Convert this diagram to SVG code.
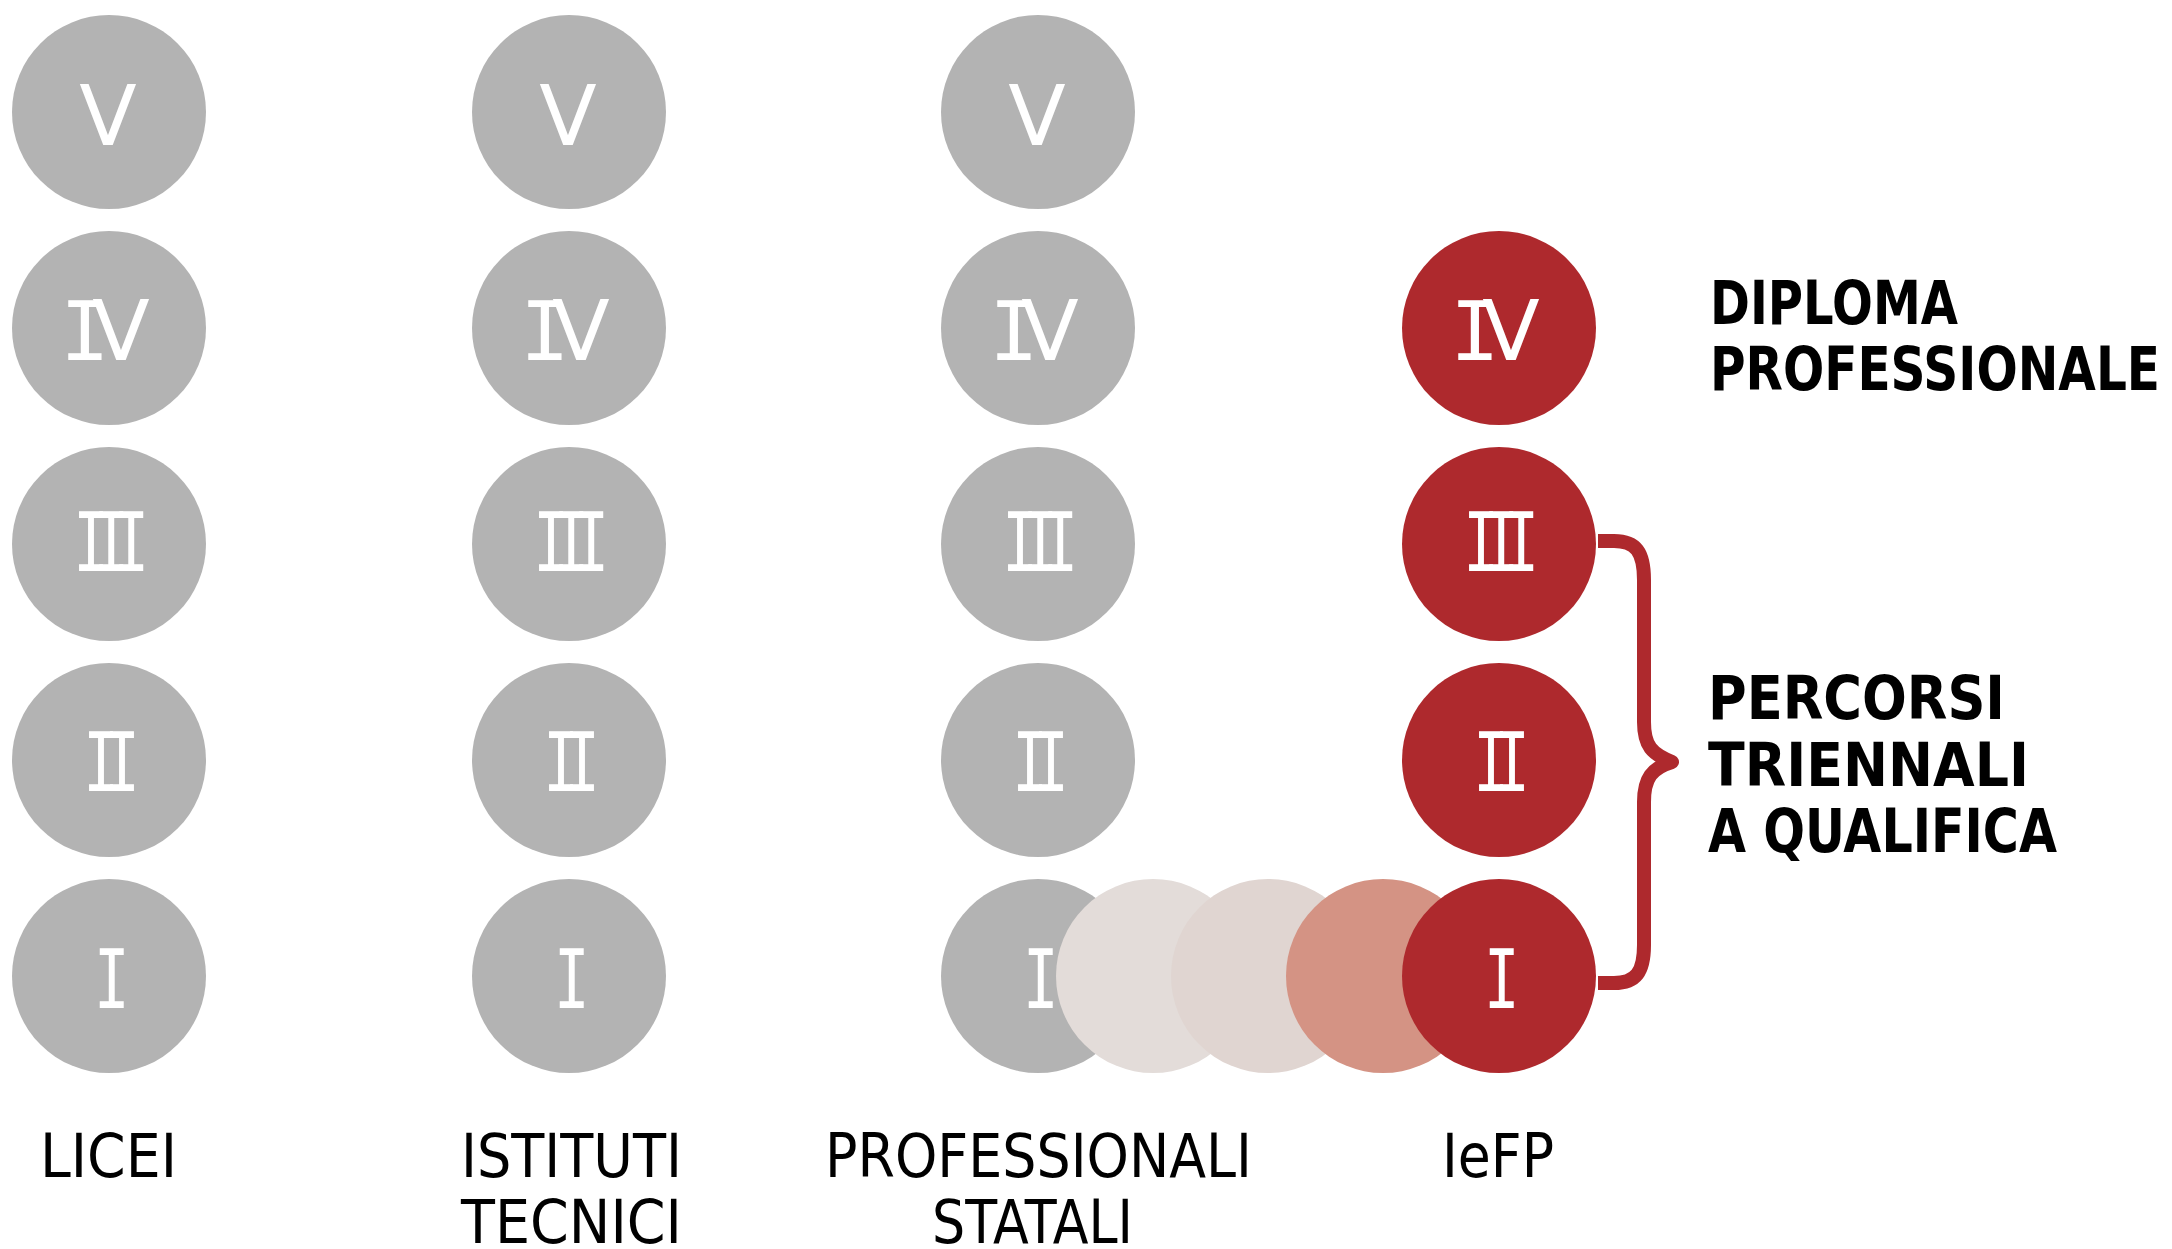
<svg xmlns="http://www.w3.org/2000/svg" width="2172" height="1249" viewBox="0 0 2172 1249">
<style>
.g{fill:#b3b3b3}
.r{fill:#ae292d}
.m{fill:#fff;font-family:"DejaVu Sans Mono",monospace;font-size:82px;text-anchor:middle}
.v{fill:#fff;font-family:"DejaVu Sans",sans-serif;font-size:84px;text-anchor:middle}
.lab{fill:#000;font-family:"DejaVu Sans",sans-serif;font-size:60px}
.b{fill:#000;font-family:"DejaVu Sans",sans-serif;font-size:60px;font-weight:bold}
</style>
<rect width="2172" height="1249" fill="#fff"/>
<g id="licei">
<circle class="g" cx="109" cy="112" r="97"/><text class="v" x="108" y="145">V</text>
<circle class="g" cx="109" cy="328" r="97"/><text class="m" x="85" y="360">I<tspan class="v" x="121">V</tspan></text>
<circle class="g" cx="109" cy="544" r="97"/><text class="m" transform="translate(109,571) scale(0.72,1)"><tspan x="-25">I</tspan><tspan x="3">I</tspan><tspan x="31">I</tspan></text>
<circle class="g" cx="109" cy="760" r="97"/><text class="m" transform="translate(109,791) scale(0.72,1)"><tspan x="-11">I</tspan><tspan x="18">I</tspan></text>
<circle class="g" cx="109" cy="976" r="97"/><text class="m" transform="translate(109,1008) scale(0.72,1)" x="4">I</text>
<text class="lab" x="40" y="1177" textLength="137" lengthAdjust="spacingAndGlyphs">LICEI</text>
</g>
<g id="tecnici">
<circle class="g" cx="569" cy="112" r="97"/><text class="v" x="568" y="145">V</text>
<circle class="g" cx="569" cy="328" r="97"/><text class="m" x="545" y="360">I<tspan class="v" x="581">V</tspan></text>
<circle class="g" cx="569" cy="544" r="97"/><text class="m" transform="translate(569,571) scale(0.72,1)"><tspan x="-25">I</tspan><tspan x="3">I</tspan><tspan x="31">I</tspan></text>
<circle class="g" cx="569" cy="760" r="97"/><text class="m" transform="translate(569,791) scale(0.72,1)"><tspan x="-11">I</tspan><tspan x="18">I</tspan></text>
<circle class="g" cx="569" cy="976" r="97"/><text class="m" transform="translate(569,1008) scale(0.72,1)" x="4">I</text>
<text class="lab" x="461" y="1177" textLength="221" lengthAdjust="spacingAndGlyphs">ISTITUTI</text>
<text class="lab" x="461" y="1243" textLength="221" lengthAdjust="spacingAndGlyphs">TECNICI</text>
</g>
<g id="professionali">
<circle class="g" cx="1038" cy="112" r="97"/><text class="v" x="1037" y="145">V</text>
<circle class="g" cx="1038" cy="328" r="97"/><text class="m" x="1014" y="360">I<tspan class="v" x="1050">V</tspan></text>
<circle class="g" cx="1038" cy="544" r="97"/><text class="m" transform="translate(1038,571) scale(0.72,1)"><tspan x="-25">I</tspan><tspan x="3">I</tspan><tspan x="31">I</tspan></text>
<circle class="g" cx="1038" cy="760" r="97"/><text class="m" transform="translate(1038,791) scale(0.72,1)"><tspan x="-11">I</tspan><tspan x="18">I</tspan></text>
<circle class="g" cx="1038" cy="976" r="97"/><text class="m" transform="translate(1038,1008) scale(0.72,1)" x="4">I</text>
<text class="lab" x="825" y="1177" textLength="427" lengthAdjust="spacingAndGlyphs">PROFESSIONALI</text>
<text class="lab" x="932" y="1243" textLength="201" lengthAdjust="spacingAndGlyphs">STATALI</text>
</g>
<g id="transition">
<circle cx="1153" cy="976" r="97" fill="#e3dcd9"/>
<circle cx="1268" cy="976" r="97" fill="#e0d5d1"/>
<circle cx="1383" cy="976" r="97" fill="#d49384"/>
</g>
<g id="connectors">
<path d="M1598,541 L1614,541 C1636,541 1644,552 1644,580 L1644,722 C1644,746 1652,754 1672,762 C1652,768 1644,778 1644,802 L1644,945 C1644,972 1636,983 1614,983 L1598,983" fill="none" stroke="#ae292d" stroke-width="14" stroke-linejoin="round"/>
</g>
<g id="iefp">
<circle class="r" cx="1499" cy="328" r="97"/><text class="m" x="1475" y="360">I<tspan class="v" x="1511">V</tspan></text>
<circle class="r" cx="1499" cy="544" r="97"/><text class="m" transform="translate(1499,571) scale(0.72,1)"><tspan x="-25">I</tspan><tspan x="3">I</tspan><tspan x="31">I</tspan></text>
<circle class="r" cx="1499" cy="760" r="97"/><text class="m" transform="translate(1499,791) scale(0.72,1)"><tspan x="-11">I</tspan><tspan x="18">I</tspan></text>
<circle class="r" cx="1499" cy="976" r="97"/><text class="m" transform="translate(1499,1008) scale(0.72,1)" x="4">I</text>
<text class="lab" x="1442" y="1177" textLength="112" lengthAdjust="spacingAndGlyphs">IeFP</text>
</g>
<g id="diploma">
<text class="b" x="1710" y="324" textLength="248" lengthAdjust="spacingAndGlyphs">DIPLOMA</text>
<text class="b" x="1710" y="390" textLength="450" lengthAdjust="spacingAndGlyphs">PROFESSIONALE</text>
</g>
<g id="percorsi">
<text class="b" x="1708" y="719" textLength="297" lengthAdjust="spacingAndGlyphs">PERCORSI</text>
<text class="b" x="1708" y="786" textLength="321" lengthAdjust="spacingAndGlyphs">TRIENNALI</text>
<text class="b" x="1708" y="852" textLength="349" lengthAdjust="spacingAndGlyphs">A QUALIFICA</text>
</g>
</svg>
